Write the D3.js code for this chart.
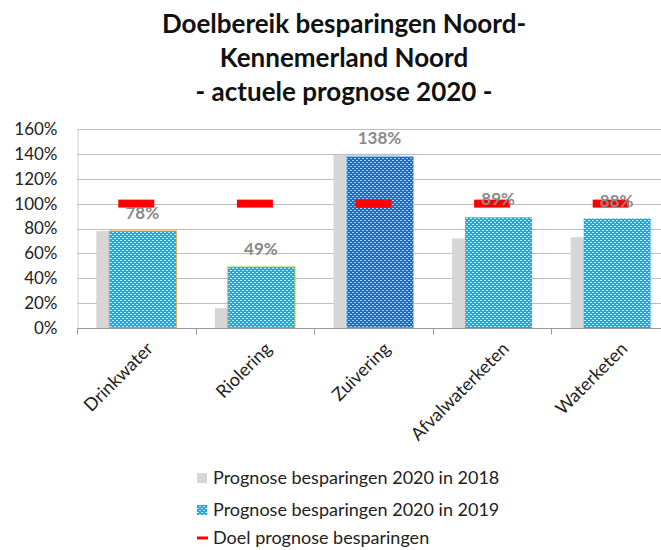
<!DOCTYPE html>
<html>
<head>
<meta charset="utf-8">
<script src="https://cdn.jsdelivr.net/npm/d3@7"></script>
<style>
  body { margin: 0; background: #fff; }
  svg { display: block; font-family: Lato, "Open Sans", sans-serif; }
</style>
</head>
<body>
<div id="chart"></div>
<script>
const categories = ["Drinkwater", "Riolering", "Zuivering", "Afvalwaterketen", "Waterketen"];
const prognose2018 = [0.78, 0.16, 1.39, 0.72, 0.73];
const prognose2019 = [0.78, 0.49, 1.38, 0.89, 0.88];
const doel = [1, 1, 1, 1, 1];
const yTicks = [0, 0.2, 0.4, 0.6, 0.8, 1.0, 1.2, 1.4, 1.6];
const titleLines = ["Doelbereik besparingen Noord-", "Kennemerland Noord", "- actuele prognose 2020 -"];
const legendLabels = ["Prognose besparingen 2020 in 2018", "Prognose besparingen 2020 in 2019", "Doel prognose besparingen"];

const width = 661, height = 550;
const svg = d3.select("#chart").append("svg")
    .attr("width", width)
    .attr("height", height);

// dotted fills like the excel pattern
const defs = svg.append("defs");
function dots(id, base, dot) {
    const p = defs.append("pattern")
        .attr("id", id)
        .attr("width", 4).attr("height", 4)
        .attr("patternUnits", "userSpaceOnUse");
    p.append("rect").attr("width", 4).attr("height", 4).attr("fill", base);
    p.append("rect").attr("x", 0).attr("y", 0).attr("width", 2).attr("height", 1).attr("fill", dot);
    p.append("rect").attr("x", 2).attr("y", 2).attr("width", 2).attr("height", 1).attr("fill", dot);
}
dots("blueDots", "#19a9e6", "#bfeafb");
dots("darkDots", "#1a6fc4", "#a9cdf0");

// title
svg.append("g").selectAll("text")
    .data(titleLines)
    .join("text")
    .attr("x", 344)
    .attr("y", (d, i) => 33 + i * 34)
    .attr("text-anchor", "middle")
    .style("font-size", "26px")
    .style("font-weight", "bold")
    .style("fill", "#111")
    .text(d => d);

const x = d3.scaleBand()
    .domain(categories)
    .range([77, 670])
    .padding(0);

const y = d3.scaleLinear()
    .domain([0, 1.6])
    .range([328, 129]);

// gridlines
svg.append("g").selectAll("line")
    .data(yTicks.slice(1))
    .join("line")
    .attr("x1", 77).attr("x2", width)
    .attr("y1", d => Math.round(y(d)) + 0.5)
    .attr("y2", d => Math.round(y(d)) + 0.5)
    .attr("stroke", "#bdbdbd");

// y axis
const yAxis = svg.append("g")
    .attr("transform", "translate(77.5,0)")
    .call(d3.axisLeft(y).tickValues(yTicks).tickFormat(d3.format(".0%")).tickSize(0).tickPadding(20));
yAxis.select(".domain").attr("stroke", "#d0d0d0");
yAxis.selectAll("text")
    .style("font-size", "17px")
    .style("fill", "#222")
    .style("font-family", "Lato, sans-serif");

const cx = c => x(c) + x.bandwidth() / 2;
const barW = 67;

// 2018 bars (grey, behind)
svg.append("g").selectAll("rect")
    .data(categories)
    .join("rect")
    .attr("x", d => cx(d) - 40)
    .attr("y", (d, i) => y(prognose2018[i]))
    .attr("width", barW)
    .attr("height", (d, i) => y(0) - y(prognose2018[i]))
    .attr("fill", "#d6d6d6");

// 2019 bars (blue dots)
const borders = ["#f0a23a", "#8cc63f", "#8fc9ee", "none", "none"];
svg.append("g").selectAll("rect")
    .data(categories)
    .join("rect")
    .attr("x", d => cx(d) - 27)
    .attr("y", (d, i) => y(prognose2019[i]))
    .attr("width", barW)
    .attr("height", (d, i) => y(0) - y(prognose2019[i]))
    .attr("fill", (d, i) => i === 2 ? "url(#darkDots)" : "url(#blueDots)")
    .attr("stroke", (d, i) => borders[i])
    .attr("stroke-width", 1);

// x axis
const xAxis = svg.append("g")
    .attr("transform", "translate(0,328.5)");
xAxis.append("line")
    .attr("x1", 77).attr("x2", width)
    .attr("stroke", "#9a9a9a");
xAxis.selectAll(".tick")
    .data(categories)
    .join("line")
    .attr("class", "tick")
    .attr("x1", d => Math.round(x(d)) + 0.5)
    .attr("x2", d => Math.round(x(d)) + 0.5)
    .attr("y1", 0).attr("y2", 6)
    .attr("stroke", "#9a9a9a");

svg.append("g").selectAll("text")
    .data(categories)
    .join("text")
    .attr("transform", d => `translate(${cx(d) + 9},${341}) rotate(-45)`)
    .attr("text-anchor", "end")
    .attr("dy", "0.7em")
    .style("font-size", "18px")
    .style("fill", "#222")
    .text(d => d);

// doel markers
svg.append("g").selectAll("rect")
    .data(categories)
    .join("rect")
    .attr("x", d => cx(d) - 18)
    .attr("y", (d, i) => y(doel[i]) - 4)
    .attr("width", 36)
    .attr("height", 8)
    .attr("fill", "#ff0000");

// value labels
svg.append("g").selectAll("text")
    .data(categories)
    .join("text")
    .attr("x", d => cx(d) + 6)
    .attr("y", (d, i) => y(prognose2019[i]) - 12)
    .attr("text-anchor", "middle")
    .style("font-size", "17px")
    .style("font-weight", "bold")
    .style("fill", "#8a8a8a")
    .text((d, i) => d3.format(".0%")(prognose2019[i]));

// legend
const legend = svg.append("g").attr("transform", "translate(197,0)");
const rowY = [478, 510, 538];
legend.append("rect").attr("x", 0).attr("y", rowY[0] - 5).attr("width", 10).attr("height", 10).attr("fill", "#d6d6d6");
legend.append("rect").attr("x", 0).attr("y", rowY[1] - 5).attr("width", 10).attr("height", 10).attr("fill", "url(#blueDots)");
legend.append("rect").attr("x", 0).attr("y", rowY[2] - 1.5).attr("width", 11).attr("height", 3).attr("fill", "#ff0000");
legend.selectAll("text")
    .data(legendLabels)
    .join("text")
    .attr("x", 16)
    .attr("y", (d, i) => rowY[i])
    .attr("dy", "0.35em")
    .style("font-size", "18px")
    .style("fill", "#222")
    .text(d => d);
</script>
</body>
</html>
